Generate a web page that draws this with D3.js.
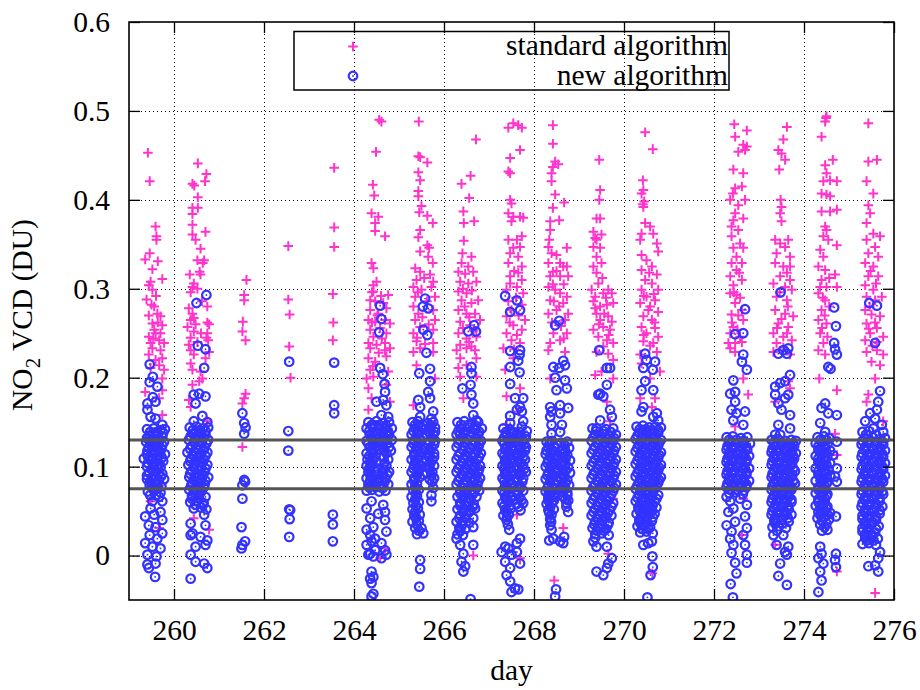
<!DOCTYPE html>
<html>
<head>
<meta charset="utf-8">
<script src="https://cdn.jsdelivr.net/npm/d3@7"></script>
<style>
  html, body { margin: 0; padding: 0; background: #fff; }
  svg { display: block; }
</style>
</head>
<body>
<svg id="chart" width="920" height="690"></svg>
<script>
// Axis ticks
const dayTicks = [260, 262, 264, 266, 268, 270, 272, 274, 276];
const vcdTicks = [0, 0.1, 0.2, 0.3, 0.4, 0.5, 0.6];
// Reference levels (DU)
const refLevels = [0.075, 0.13];
const seriesNames = ["standard algorithm", "new algorithm"];

// Retrievals per day: [offset into the day in 1/100 day, NO2 VCD in mDU]
const std259 = [[42,453],[46,421],[59,370],[61,359],[61,355],[46,340],[36,333],[64,331],[52,322],[74,311],[48,308],[44,304],[52,299],[39,288],[56,280],[44,270],[63,272],[70,269],[52,261],[74,259],[56,254],[70,250],[59,250],[44,246],[67,242],[78,239],[48,239],[52,233],[70,231],[44,226],[74,222],[59,220],[67,214],[48,211],[78,209],[74,199],[36,184],[74,186],[67,177],[74,158],[44,124],[63,113],[52,94],[70,79],[48,61],[67,31],
  [60,292],[50,282],[64,262],[54,244]];
const new259 = [[46,215],[53,201],[46,195],[63,190],[53,178],[59,173],[41,171],[41,164],[48,156],[59,154],[74,147],
  [40,142],[55,143],[70,141],[80,142],[46,135],[60,136],[74,134],[38,128],[52,129],[66,127],[78,128],[44,121],[58,122],[72,120],
  [40,114],[54,115],[68,113],[80,114],[33,109],[48,107],[62,108],[76,106],[40,100],[55,101],[70,99],[45,93],[60,94],[74,92],
  [40,86],[52,87],[66,85],[78,86],[46,79],[60,80],[72,78],[42,72],[56,73],[70,71],
  [47,139],[62,139],[76,138],[40,132],[53,132],[67,131],[47,125],[60,125],[74,124],[41,118],[55,118],[69,117],[46,111],[60,111],[73,110],
  [42,104],[56,104],[68,103],[50,97],[64,97],[40,90],[56,90],[71,89],[47,83],[62,83],[52,76],[65,76],[47,68],[60,68],
  [67,66],[52,61],[74,61],[48,53],[70,49],[56,46],[36,44],[74,40],[44,34],[59,32],[74,25],[46,23],[63,19],[36,14],[52,10],[70,8],[41,1],[61,-1],[59,-9],[41,-10],[44,-14],[58,-24]];

const std260 = [[53,441],[72,429],[69,421],[41,418],[45,416],[53,403],[41,391],[53,391],[41,384],[41,372],[70,364],[41,361],[48,355],[59,345],[52,332],[67,332],[64,329],[57,319],[35,316],[59,316],[44,306],[41,302],[37,296],[74,280],[33,278],[41,272],[37,265],[44,267],[74,262],[78,260],[30,257],[44,252],[37,245],[74,250],[72,245],[76,242],[33,237],[37,231],[44,226],[78,229],[70,222],[37,216],[41,209],[59,207],[63,199],[56,196],[41,192],[33,175],[37,167],[74,151],[48,124],[67,106],[41,87],[59,68],[44,42],[78,29],
  [52,300],[62,286],[48,260],[60,250],[52,240]];
const new260 = [[50,284],[72,293],[53,236],[70,232],[67,211],[44,181],[56,182],[70,179],[48,171],[63,157],[44,151],[74,150],
  [35,144],[50,145],[64,143],[76,144],[42,137],[57,138],[70,136],[33,130],[48,131],[62,129],[76,130],[40,123],[55,124],[68,122],
  [30,116],[45,117],[60,115],[74,116],[38,109],[52,110],[66,108],[32,102],[46,103],[60,101],[74,102],[40,95],[55,96],[68,94],
  [34,88],[48,89],[62,87],[76,88],[40,81],[54,82],[68,80],[34,74],[48,75],[62,73],[40,67],[55,68],[70,66],[36,60],[50,61],[66,59],[44,53],[60,54],[72,52],
  [42,141],[57,141],[70,140],[37,134],[51,134],[65,133],[45,127],[60,127],[72,126],[36,120],[51,120],[66,119],[42,113],[57,113],[70,112],
  [36,106],[50,106],[64,105],[44,99],[58,99],[70,98],[36,92],[50,92],[64,91],[44,85],[58,85],[70,84],[38,78],[52,78],[66,77],[44,71],[58,71],[40,64],[56,64],[48,57],[64,57],
  [67,46],[37,36],[70,34],[41,25],[37,23],[59,21],[74,17],[70,12],[48,10],[37,1],[48,-7],[67,-9],[74,-14],[37,-26]];

const std261 = [[61,310],[56,293],[56,287],[53,263],[52,252],[59,242],[59,182],[56,177],[52,171],[52,122]];
const new261 = [[52,160],[56,149],[59,144],[56,137],[56,85],[52,79],[58,83],[52,64],[50,32],[58,16],[52,12],[50,8]];

const std262 = [[54,348],[54,288],[57,271],[56,235],[59,200]];
const new262 = [[56,218],[54,140],[54,118],[56,52],[58,51],[57,41],[56,21]];

const std263 = [[56,436],[56,369],[56,347],[53,294],[54,262],[53,242]];
const new263 = [[56,217],[56,169],[56,160],[53,46],[53,35],[53,16]];

const std264 = [[56,490],[61,488],[49,454],[42,417],[45,405],[39,385],[54,381],[47,374],[47,365],[69,359],[39,329],[43,323],[50,308],[43,304],[43,297],[76,293],
  [36,287],[47,286],[65,284],[36,276],[54,272],[72,278],[32,265],[47,263],[69,265],[80,261],[36,254],[58,256],[43,246],[72,250],[32,239],[50,237],[69,239],[80,233],
  [36,233],[69,231],[32,222],[47,218],[72,224],[36,209],[76,207],[28,199],[43,201],[32,188],[39,177],[72,192],[32,164],[80,173],[47,124],[72,113],[36,79],[69,8],[58,-3],
  [40,296],[60,292],[52,270],[40,262],[62,244],[55,228],[42,213]];
const new264 = [[58,281],[61,266],[56,251],[58,211],[64,204],[68,193],[69,184],[50,173],[65,175],[72,169],[61,158],[76,156],[43,147],[69,143],[72,139],
  [32,150],[50,151],[64,149],[78,150],[28,143],[42,144],[56,142],[84,143],[35,136],[50,137],[64,135],[78,136],
  [28,129],[42,130],[56,128],[70,129],[84,130],[35,122],[50,123],[64,121],[78,122],[28,115],[42,116],[72,115],
  [30,108],[44,109],[76,108],[28,101],[40,102],[72,101],[32,94],[46,95],[64,93],[78,94],[28,87],[40,88],[56,86],[70,87],
  [32,80],[46,81],[62,79],[76,80],[28,73],[40,74],[56,72],[70,73],
  [40,147],[56,147],[71,146],[34,140],[48,140],[62,139],[76,139],[40,133],[56,133],[70,132],[32,126],[46,126],[60,125],[74,126],
  [40,119],[54,119],[68,118],[82,118],[34,112],[48,112],[66,111],[36,105],[50,105],[68,104],[34,98],[52,98],[66,97],
  [36,91],[50,91],[62,90],[74,91],[36,84],[52,84],[68,83],[34,77],[48,77],[64,76],
  [39,61],[65,57],[28,53],[69,49],[54,47],[36,42],[69,40],[43,32],[28,29],[72,27],[36,23],[47,19],[39,16],[61,14],[28,12],[47,6],[69,6],[36,2],[32,1],[72,1],[43,-1],[61,-3],[39,-18],[43,-24],[36,-26],[39,-31],[43,-43],[39,-46]];

const std265 = [[44,488],[43,449],[47,448],[63,442],[43,431],[47,422],[43,410],[43,404],[50,393],[45,386],[63,382],[75,374],[47,366],[43,358],[63,349],[67,346],[47,342],[65,336],[75,329],
  [36,323],[47,319],[69,316],[39,310],[76,308],[32,302],[50,299],[72,302],[36,291],[80,291],[32,280],[43,272],[76,276],[36,265],[80,265],[47,257],[32,250],[76,254],[39,241],[76,239],[47,233],
  [32,229],[76,229],[39,214],[32,169],[80,199],[76,147],[47,124],[69,109],[36,79],
  [56,312],[42,296],[62,286],[52,268],[66,260],[40,245],[58,238]];
const new265 = [[58,289],[53,280],[65,278],[54,254],[63,248],[61,228],[45,205],[69,210],[69,196],[65,184],[69,177],[43,175],[47,167],[76,162],[72,154],[47,156],[43,147],[43,139],
  [30,150],[42,151],[64,149],[76,150],[36,143],[48,144],[58,142],[70,143],[80,144],[28,136],[42,137],[62,135],[76,136],
  [34,129],[48,130],[68,128],[80,129],[28,122],[42,123],[58,121],[72,122],[34,115],[48,116],[64,114],[78,115],
  [28,108],[42,109],[60,107],[74,108],[34,101],[48,102],[66,100],[78,101],[28,94],[42,95],[62,93],[74,94],[34,87],[46,88],[68,86],[78,87],
  [36,147],[53,147],[70,146],[32,140],[44,140],[68,139],[80,139],[38,133],[52,133],[74,132],[32,126],[46,126],[64,125],[78,125],
  [38,119],[52,119],[70,118],[34,112],[46,112],[68,111],[78,111],[36,105],[52,105],[70,104],[32,98],[46,98],[68,97],[40,91],[54,91],[72,90],
  [34,84],[74,83],[36,77],[38,70],[36,63],[38,56],[36,49],[38,42],[40,35],[44,28],
  [76,76],[72,68],[72,61],[28,80],[40,81],[32,73],[44,74],[28,66],[40,67],[32,59],[44,60],[30,52],[42,53],[34,45],[46,46],[30,38],[44,39],[36,31],[50,31],[40,24],[54,25],
  [47,-5],[47,-15],[45,-35]];

const std266 = [[71,468],[59,427],[39,418],[56,402],[43,387],[67,376],[44,374],[44,354],[41,340],[61,336],
  [39,329],[54,325],[32,319],[47,317],[65,319],[36,308],[54,306],[72,308],[32,297],[50,295],[39,287],[61,284],[76,287],[32,276],[50,272],[69,272],[36,263],[80,265],[58,259],[32,250],[50,244],[72,246],[36,237],[61,235],
  [28,231],[50,233],[69,231],[36,222],[72,222],[32,211],[50,214],[36,201],[72,201],[43,177],[36,145],[50,117],[43,94],[65,79],[65,0],
  [42,300],[62,298],[46,280],[56,268],[42,256],[66,253],[56,240]];
const new266 = [[67,259],[54,252],[71,252],[61,212],[61,205],[41,188],[59,192],[61,181],[65,171],[65,158],[72,152],[36,136],
  [30,150],[45,151],[62,149],[76,150],[38,143],[54,144],[70,142],[84,143],[28,136],[44,137],[60,135],[76,136],
  [36,129],[52,130],[68,128],[82,129],[28,122],[44,123],[60,121],[76,122],[36,115],[52,116],[68,114],[82,115],
  [28,108],[44,109],[60,107],[74,108],[36,101],[52,102],[68,100],[80,101],[28,94],[44,95],[60,93],[76,94],
  [36,87],[52,88],[68,86],[80,87],[28,80],[44,81],[60,79],[74,80],[36,73],[50,74],[66,72],[78,73],
  [30,66],[44,67],[58,65],[72,66],[36,59],[50,60],[66,58],[30,52],[44,53],[58,51],[69,53],[36,45],[50,46],[65,42],
  [28,38],[42,39],[56,37],[65,32],[34,31],[48,30],[30,24],[42,23],
  [38,147],[54,147],[69,146],[32,140],[46,140],[62,139],[78,139],[42,133],[58,133],[74,132],[32,126],[48,126],[64,125],[78,125],
  [42,119],[58,119],[74,118],[32,112],[48,112],[64,111],[78,111],[40,105],[56,105],[70,104],[32,98],[48,98],[64,97],[78,97],
  [40,91],[56,91],[72,90],[32,84],[48,84],[64,83],[76,83],[40,77],[56,77],[72,76],[36,70],[50,70],[64,69],[42,63],[58,63],
  [36,56],[50,56],[64,55],[42,49],[56,49],[34,42],[48,42],[40,35],[36,28],
  [28,19],[36,12],[65,12],[43,2],[39,-7],[47,-12],[43,-18],[59,-49]];

const std267 = [[43,481],[54,486],[65,484],[73,481],[69,456],[47,447],[43,432],[47,430],[47,400],[50,396],[43,385],[54,381],[69,381],[76,380],[50,376],[43,355],[62,355],[73,359],[69,347],[54,346],[47,340],[65,336],[43,329],[73,325],[65,318],[47,314],[73,310],[47,306],[62,302],[76,295],[39,299],[43,286],[73,282],[39,269],[80,265],[54,259],[39,250],[73,254],[50,242],[69,239],
  [32,233],[54,222],[36,209],[39,179],[69,188],[65,162],[39,147],[47,124],[73,94],[62,46],[69,-3],
  [56,320],[60,290],[50,276],[66,270],[46,262],[62,248],[56,232]];
const new267 = [[36,292],[62,287],[47,274],[69,276],[47,230],[69,231],[68,226],[65,219],[47,212],[68,206],[47,193],[58,177],[76,177],[69,167],[62,164],[47,157],[73,162],[76,151],[73,145],[62,136],[47,149],
  [32,143],[46,142],[84,140],[38,136],[54,137],[70,135],[82,134],[30,129],[44,130],[60,128],[76,129],[38,122],[52,123],[68,121],[82,122],
  [30,115],[44,116],[60,114],[74,115],[36,108],[50,109],[66,107],[80,108],[30,101],[44,102],[62,100],[76,101],[36,94],[50,95],[68,93],[82,94],
  [30,87],[44,88],[62,86],[76,87],[36,80],[50,81],[68,79],[30,73],[44,74],[62,72],[76,73],[36,66],[50,67],[68,65],[30,59],[44,60],[62,58],[76,59],
  [36,52],[48,53],[70,51],[32,45],[44,46],[39,40],[45,29],
  [38,139],[54,139],[68,139],[34,133],[50,133],[66,132],[80,131],[34,126],[48,126],[64,125],[78,125],[36,119],[52,119],[66,118],[80,118],
  [34,112],[46,112],[62,111],[76,111],[36,105],[52,105],[70,104],[34,98],[48,98],[64,97],[78,97],[36,91],[52,91],[70,90],
  [34,84],[46,84],[62,83],[74,83],[38,77],[54,77],[70,76],[34,70],[46,70],[64,69],[38,63],[54,63],[72,62],[34,56],[46,56],[66,55],[38,49],[40,43],[42,35],
  [69,19],[62,14],[36,10],[43,8],[50,1],[28,4],[62,4],[69,-9],[36,-7],[47,-14],[39,-22],[47,-29],[58,-37],[50,-41],[65,-38]];

const std268 = [[42,484],[42,463],[47,443],[54,440],[42,437],[39,430],[39,421],[47,406],[67,397],[42,391],[36,376],[56,377],[36,366],[34,355],[73,346],[32,347],[39,340],[50,338],[58,329],[65,325],[73,325],[32,329],[42,319],[36,314],[58,314],[76,314],[32,302],[47,299],[58,295],[73,291],[36,287],[65,284],[76,272],[69,265],[43,250],[73,250],[58,242],[32,272],[50,276],[36,239],
  [32,231],[36,199],[69,229],[65,31],[45,-28],[50,106],[58,79],
  [50,320],[42,305],[66,305],[44,286],[56,280],[40,262],[60,258],[66,244]];
const new268 = [[47,259],[56,264],[43,212],[56,211],[65,219],[69,214],[47,200],[69,197],[50,186],[73,188],[36,167],[58,169],[76,166],[39,162],[36,156],[58,160],[39,147],[62,147],[39,137],[58,139],
  [28,128],[40,129],[60,127],[74,128],[32,121],[46,122],[64,120],[78,121],[26,114],[38,115],[52,113],[62,114],[74,113],
  [32,107],[46,108],[66,106],[80,107],[26,100],[38,101],[52,99],[62,100],[76,99],[32,93],[46,94],[66,92],[80,93],
  [26,86],[38,87],[50,85],[60,86],[74,85],[32,79],[46,80],[66,78],[78,79],[26,72],[38,73],[50,71],[62,72],[74,71],
  [32,65],[44,66],[70,64],[28,58],[40,59],[72,59],[32,51],[44,52],[76,49],
  [34,125],[50,125],[68,124],[28,118],[42,118],[58,117],[70,117],[36,111],[50,111],[70,110],[30,104],[42,104],[58,103],[70,103],
  [36,97],[50,97],[70,96],[30,90],[42,90],[56,89],[68,89],[36,83],[52,83],[70,82],[30,76],[42,76],[58,75],[70,75],
  [36,69],[48,69],[74,68],[32,62],[44,62],[76,62],[36,55],[72,55],[34,48],[36,41],[38,38],
  [65,66],[32,68],[39,46],[36,34],[39,29],[34,17],[43,19],[58,16],[65,14],[67,21],[49,-38],[47,-46]];

const std269 = [[45,445],[47,411],[45,400],[39,379],[47,379],[32,364],[36,357],[50,361],[39,355],[32,347],[47,346],[39,336],[50,329],[32,325],[39,318],[43,306],[28,299],[36,291],[54,295],[65,299],[73,295],[32,286],[47,280],[62,282],[76,284],[39,272],[65,269],[47,265],[73,263],[32,254],[54,257],[69,254],[43,246],[62,242],[76,239],
  [39,229],[65,227],[76,220],[36,203],[50,207],[76,199],[62,173],[69,151],[50,117],[62,94],[76,64],[65,2],
  [52,312],[60,290],[36,278],[56,272],[44,260],[66,248],[54,235]];
const new269 = [[45,231],[62,211],[69,211],[62,192],[47,182],[43,181],[54,179],[69,164],[73,156],[39,143],[47,152],
  [30,143],[60,142],[76,143],[36,136],[52,137],[68,135],[82,136],[28,129],[44,130],[60,128],[76,129],[36,122],[52,123],[68,121],[82,122],
  [28,115],[44,116],[60,114],[76,115],[36,108],[52,109],[68,107],[82,108],[28,101],[44,102],[60,100],[76,101],[36,94],[52,95],[68,93],[82,94],
  [28,87],[44,88],[60,86],[76,87],[36,80],[52,81],[68,79],[82,80],[28,73],[44,74],[60,72],[76,73],[36,66],[52,67],[68,65],
  [28,59],[44,60],[60,58],[76,59],[36,52],[52,53],[68,51],[28,45],[44,46],[60,44],[72,45],[36,38],[52,39],[66,37],
  [30,31],[44,32],[60,30],[36,24],[50,25],[66,23],
  [38,140],[54,140],[70,139],[32,133],[48,133],[64,132],[78,132],[40,126],[56,126],[72,125],[32,119],[48,119],[64,118],[78,118],
  [40,112],[56,112],[72,111],[32,105],[48,105],[64,104],[78,104],[40,98],[56,98],[72,97],[32,91],[48,91],[64,90],[78,90],
  [40,84],[56,84],[72,83],[32,77],[48,77],[64,76],[78,76],[40,70],[56,70],[72,69],[32,63],[48,63],[64,62],[40,56],[56,56],[72,55],
  [32,49],[48,49],[64,48],[40,42],[56,42],[34,35],[50,35],[64,34],[40,28],[56,28],[36,20],
  [32,16],[39,10],[62,10],[73,-3],[65,-9],[62,-14],[54,-22],[39,-18]];

const std270 = [[47,476],[64,457],[42,422],[43,411],[39,407],[45,398],[42,395],[43,392],[47,374],[58,370],[65,362],[39,362],[36,355],[73,351],[76,342],[39,338],[50,332],[62,325],[39,321],[73,316],[47,310],[62,306],[39,299],[76,299],[50,291],[69,287],[36,284],[58,280],[76,274],[43,269],[62,265],[39,257],[69,256],[50,250],[76,246],[43,241],[65,239],
  [36,226],[73,229],[39,216],[80,207],[58,199],[36,177],[69,177],[62,167],[50,124],[65,87],[43,57],[63,-20],
  [56,318],[66,294],[44,292],[54,276],[68,262],[44,248],[58,236]];
const new270 = [[47,227],[50,220],[69,218],[43,211],[64,209],[47,196],[39,186],[65,186],[43,167],[39,162],[73,160],[65,156],[76,152],
  [28,145],[42,146],[56,144],[70,145],[82,144],[34,138],[48,139],[62,137],[76,138],[26,131],[40,132],[54,130],[68,131],[82,130],
  [34,124],[48,125],[62,123],[76,124],[26,117],[40,118],[54,116],[68,117],[82,116],[34,110],[48,111],[62,109],[76,110],
  [26,103],[40,104],[54,102],[68,103],[82,102],[34,96],[48,97],[62,95],[76,96],[26,89],[40,90],[54,88],[68,89],[82,88],
  [34,82],[48,83],[62,81],[76,82],[26,75],[40,76],[54,74],[68,75],[34,68],[48,69],[62,67],[76,68],[26,61],[40,62],[54,60],[68,61],
  [32,54],[46,55],[60,53],[72,54],[28,47],[42,48],[56,46],[68,47],[34,40],[48,41],[62,39],[30,33],[44,34],[58,32],[36,26],[50,27],[64,25],
  [35,142],[49,142],[63,141],[76,141],[30,135],[44,135],[58,134],[70,134],[36,128],[50,128],[64,127],[78,127],[30,121],[44,121],[58,120],[72,120],
  [36,114],[50,114],[64,113],[78,113],[30,107],[44,107],[58,106],[72,106],[36,100],[50,100],[64,99],[78,99],[30,93],[44,93],[58,92],[72,92],
  [36,86],[50,86],[64,85],[78,85],[30,79],[44,79],[58,78],[72,78],[36,72],[50,72],[64,71],[30,65],[44,65],[58,64],[72,64],
  [36,58],[50,58],[64,57],[34,51],[48,51],[62,50],[38,44],[52,44],[64,43],[36,37],[50,37],[40,30],[54,30],
  [43,12],[54,14],[62,16],[63,-1],[64,-13],[59,-22],[52,-47]];

const std272 = [[45,485],[73,478],[47,471],[65,462],[73,460],[69,456],[54,454],[43,434],[65,430],[47,413],[62,415],[42,407],[69,400],[36,400],[54,394],[47,385],[43,377],[65,379],[39,370],[54,366],[39,359],[58,351],[43,346],[65,346],[50,336],[39,329],[62,329],[50,321],[36,314],[62,310],[43,304],[36,295],[50,293],[47,284],[62,276],[39,271],[65,265],[43,257],[36,250],[58,246],[47,239],[32,239],
  [36,233],[47,229],[65,199],[76,181],[47,145],[50,106],[39,79],[65,64],[62,23],
  [56,318],[44,296],[58,290],[54,270],[40,262],[52,254],[62,240]];
const new272 = [[69,277],[47,249],[65,250],[65,226],[62,218],[73,209],[43,197],[36,182],[47,184],[47,173],[39,164],[50,160],[43,152],[69,162],[65,147],
  [28,133],[42,134],[60,132],[74,133],[34,126],[50,127],[66,125],[80,126],[28,119],[42,120],[58,118],[74,119],
  [34,112],[50,113],[66,111],[78,112],[28,105],[42,106],[58,104],[72,105],[34,98],[50,99],[66,97],[78,98],
  [28,91],[42,92],[58,90],[72,91],[34,84],[50,85],[66,83],[78,84],[28,77],[42,78],[58,76],[72,77],[34,70],[48,71],[64,69],
  [34,130],[50,130],[66,129],[30,123],[44,123],[58,122],[72,122],[34,116],[50,116],[66,115],[30,109],[44,109],[58,108],[72,108],
  [34,102],[50,102],[66,101],[30,95],[44,95],[58,94],[72,94],[34,88],[50,88],[66,87],[30,81],[44,81],[58,80],[72,80],[36,74],[50,74],[66,73],
  [28,66],[58,64],[36,61],[43,53],[32,49],[73,57],[69,44],[47,38],[28,34],[73,31],[39,27],[65,23],[36,19],[69,12],[43,12],[73,1],[39,3],[47,-8],[73,-8],[50,-20],[37,-32],[42,-47]];

const std273 = [[62,482],[54,468],[43,456],[50,452],[58,445],[45,434],[48,400],[50,392],[47,385],[50,376],[36,355],[47,351],[65,355],[58,347],[39,340],[69,336],[36,329],[54,325],[69,325],[47,314],[69,310],[32,306],[58,302],[73,299],[39,291],[62,287],[36,276],[58,272],[76,269],[43,261],[65,257],[32,250],[54,246],[73,242],[39,239],
  [32,229],[69,226],[65,196],[69,188],[36,173],[54,117],[32,87],[36,12],
  [62,318],[46,296],[64,280],[50,266],[40,256],[62,250],[54,234]];
const new273 = [[48,296],[43,227],[54,231],[65,233],[62,227],[69,203],[36,190],[47,194],[58,196],[36,181],[43,171],[58,177],[65,181],[50,164],[69,158],[43,147],[47,136],[69,143],[36,136],
  [28,130],[42,131],[58,129],[72,130],[82,129],[34,123],[50,124],[66,122],[78,123],[28,116],[42,117],[58,115],[72,116],[82,115],
  [34,109],[50,110],[66,108],[78,109],[28,102],[42,103],[58,101],[72,102],[34,95],[50,96],[66,94],[80,95],
  [28,88],[42,89],[58,87],[72,88],[34,81],[50,82],[66,80],[80,81],[28,74],[42,75],[58,73],[72,74],[34,67],[50,68],[66,66],
  [28,60],[42,61],[58,59],[72,60],[34,53],[50,54],[66,52],[28,46],[42,47],[58,45],[72,46],[34,39],[50,40],[66,38],[30,32],[44,33],[60,31],
  [34,127],[50,127],[64,126],[76,126],[30,120],[44,120],[58,119],[74,119],[34,113],[50,113],[64,112],[76,112],[30,106],[44,106],[58,105],[74,105],
  [36,99],[50,99],[64,98],[76,98],[30,92],[44,92],[58,91],[74,91],[36,85],[50,85],[64,84],[76,84],[30,78],[44,78],[58,77],[72,77],
  [36,71],[50,71],[64,70],[30,64],[44,64],[58,63],[72,63],[36,57],[50,57],[64,56],[30,50],[44,50],[58,49],[36,43],[50,43],[64,42],[36,36],[52,36],[40,28],
  [32,23],[54,23],[39,12],[65,10],[62,1],[58,4],[47,-9],[43,-23],[62,-33]];

const std274 = [[49,492],[47,488],[50,494],[39,471],[64,445],[47,439],[50,430],[43,421],[58,422],[73,421],[39,407],[50,406],[58,404],[39,387],[58,387],[73,389],[47,370],[50,366],[43,359],[54,355],[73,349],[36,344],[43,336],[32,325],[47,321],[39,310],[69,316],[36,302],[50,302],[73,302],[32,295],[47,287],[39,276],[32,265],[50,261],[36,250],[43,239],
  [32,231],[47,226],[34,199],[73,186],[69,137],[73,113],[73,-18],[39,87],
  [56,312],[42,290],[56,280],[46,270],[40,256],[52,246]];
const new274 = [[67,279],[71,258],[67,239],[69,232],[73,226],[54,212],[59,210],[47,171],[39,166],[54,160],[36,149],[73,158],[47,139],[73,128],
  [30,133],[44,134],[56,132],[26,126],[40,127],[52,125],[32,119],[46,120],[58,118],[26,112],[40,113],[52,111],
  [32,105],[46,106],[58,104],[26,98],[40,99],[54,97],[32,91],[46,92],[58,90],[26,84],[40,85],[52,83],[32,77],[46,78],
  [26,70],[40,71],[52,69],[32,63],[46,64],[26,56],[40,57],[52,55],[32,49],[46,50],[58,48],[30,42],[44,43],[56,41],[36,35],[50,36],[40,28],[52,29],
  [36,130],[50,130],[32,123],[46,123],[36,116],[50,116],[32,109],[46,109],[36,102],[50,102],[32,95],[48,95],[36,88],[50,88],[38,81],[50,81],
  [32,74],[46,74],[38,67],[50,67],[32,60],[46,60],[36,53],[50,53],[36,46],[52,46],[40,39],[46,32],
  [73,98],[73,83],[71,44],[69,89],[65,113],
  [36,10],[39,2],[32,-3],[43,-9],[36,-18],[39,-28],[32,-41],[71,2],[69,-5],[71,-13]];

const std275 = [[43,486],[43,443],[62,445],[39,421],[54,407],[43,394],[47,385],[39,374],[54,362],[69,359],[39,355],[58,347],[43,340],[65,336],[36,329],[54,325],[43,314],[65,314],[36,304],[54,299],[39,291],[58,287],[73,291],[36,276],[50,271],[69,269],[39,261],[62,256],[47,250],[76,246],[36,242],
  [39,229],[62,231],[76,226],[50,218],[69,214],[58,199],[43,181],[39,173],[76,151],[58,-42],[54,117],[73,79],
  [48,320],[60,306],[46,280],[58,262],[44,255],[62,240],[52,236]];
const new275 = [[45,284],[62,281],[58,239],[69,185],[65,173],[62,164],[47,160],[36,151],[58,154],[73,147],[54,143],
  [30,139],[44,140],[76,139],[36,132],[52,133],[68,131],[80,132],[28,125],[44,126],[60,124],[76,125],[36,118],[52,119],[68,117],[80,118],
  [28,111],[44,112],[60,110],[76,111],[36,104],[52,105],[68,103],[80,104],[28,97],[44,98],[60,96],[76,97],[36,90],[52,91],[68,89],[80,90],
  [28,83],[44,84],[60,82],[76,83],[36,76],[52,77],[68,75],[28,69],[44,70],[60,68],[76,69],[36,62],[52,63],[68,61],
  [28,55],[44,56],[60,54],[74,55],[36,48],[52,49],[68,47],[30,41],[44,42],[60,40],[36,34],[50,35],[66,33],[30,27],[44,28],[58,26],
  [36,20],[50,21],[64,19],[30,13],[44,14],[60,12],
  [38,136],[60,136],[30,129],[44,129],[60,128],[74,128],[36,122],[52,122],[68,121],[30,115],[44,115],[60,114],[74,114],
  [36,108],[52,108],[68,107],[30,101],[44,101],[60,100],[74,100],[36,94],[52,94],[68,93],[30,87],[44,87],[60,86],[74,86],
  [36,80],[52,80],[68,79],[30,73],[44,73],[60,72],[74,72],[36,66],[52,66],[68,65],[30,59],[44,59],[60,58],[36,52],[52,52],[68,51],
  [30,45],[44,45],[60,44],[36,38],[52,38],[30,31],[44,31],[60,30],[36,24],[50,24],[40,17],[54,17],
  [69,4],[65,-3],[58,-11],[43,-12],[65,-18]];

const standardDays = [[259,std259],[260,std260],[261,std261],[262,std262],[263,std263],[264,std264],[265,std265],[266,std266],[267,std267],[268,std268],[269,std269],[270,std270],[272,std272],[273,std273],[274,std274],[275,std275]];
const newDays = [[259,new259],[260,new260],[261,new261],[262,new262],[263,new263],[264,new264],[265,new265],[266,new266],[267,new267],[268,new268],[269,new269],[270,new270],[272,new272],[273,new273],[274,new274],[275,new275]];

const COLOR_STD = "#ff33cc";
const COLOR_NEW = "#3333ff";
const FONT = "'Liberation Serif', 'Times New Roman', serif";
const FONT_SIZE = 29.5;

const toPoints = days => days.flatMap(([day, pts]) =>
  pts.map(([off, mdu]) => ({ day: day + off / 100, vcd: mdu / 1000 })));
const standardPts = toPoints(standardDays);
const newPts = toPoints(newDays);

const svg = d3.select("#chart");
const plotL = 129, plotR = 894, plotT = 22, plotB = 600;

const x = d3.scaleLinear().domain([259, 276]).range([plotL, plotR]);
const y = d3.scaleLinear().domain([-0.05, 0.6]).range([plotB, plotT]);

svg.append("rect").attr("width", 920).attr("height", 690).attr("fill", "#fff");

svg.append("defs").append("clipPath").attr("id", "plot-clip")
  .append("rect").attr("x", plotL).attr("y", plotT)
  .attr("width", plotR - plotL).attr("height", plotB - plotT);

// Dotted grid
const grid = svg.append("g").attr("stroke", "#000").attr("stroke-width", 1)
  .attr("stroke-dasharray", "1,3").attr("fill", "none");
grid.selectAll("line.gx").data(dayTicks.filter(d => d < 276)).join("line")
  .attr("class", "gx")
  .attr("x1", d => Math.round(x(d)) + 0.5).attr("x2", d => Math.round(x(d)) + 0.5)
  .attr("y1", plotT).attr("y2", plotB);
grid.selectAll("line.gy").data(vcdTicks.filter(v => v < 0.6)).join("line")
  .attr("class", "gy")
  .attr("x1", plotL).attr("x2", plotR)
  .attr("y1", d => Math.round(y(d)) + 0.5).attr("y2", d => Math.round(y(d)) + 0.5);

const plot = svg.append("g").attr("clip-path", "url(#plot-clip)");

// Standard algorithm: plus marks
const plusPath = "M-4.8,0H4.8M0,-4.8V4.8";
plot.append("g").selectAll("path").data(standardPts).join("path")
  .attr("d", plusPath)
  .attr("transform", d => `translate(${x(d.day)},${y(d.vcd)})`)
  .attr("stroke", COLOR_STD).attr("stroke-width", 2).attr("fill", "none");

// New algorithm: circled dots
const marks = plot.append("g").selectAll("g").data(newPts).join("g")
  .attr("transform", d => `translate(${x(d.day)},${y(d.vcd)})`);
marks.append("circle").attr("r", 4.3).attr("fill", "none")
  .attr("stroke", COLOR_NEW).attr("stroke-width", 2.2);
marks.append("circle").attr("r", 0.9).attr("fill", COLOR_NEW);

// Reference levels
plot.append("g").selectAll("line").data(refLevels).join("line")
  .attr("x1", plotL).attr("x2", plotR)
  .attr("y1", d => y(d)).attr("y2", d => y(d))
  .attr("stroke", "#555").attr("stroke-width", 3);

// Axes: inward ticks on all four sides
const tick = 11;
const styleAxis = g => {
  g.select(".domain").remove();
  g.selectAll(".tick line").attr("stroke", "#000").attr("stroke-width", 1.3);
  g.selectAll("text").attr("font-family", FONT).attr("font-size", FONT_SIZE).attr("fill", "#000");
};
svg.append("g").attr("transform", `translate(0,${plotB})`)
  .call(d3.axisBottom(x).tickValues(dayTicks).tickSizeInner(-tick).tickSizeOuter(0).tickPadding(19).tickFormat(d3.format("d")))
  .call(styleAxis);
svg.append("g").attr("transform", `translate(0,${plotT})`)
  .call(d3.axisTop(x).tickValues(dayTicks).tickSizeInner(-tick).tickSizeOuter(0).tickFormat(""))
  .call(styleAxis);
svg.append("g").attr("transform", `translate(${plotL},0)`)
  .call(d3.axisLeft(y).tickValues(vcdTicks).tickSizeInner(-tick).tickSizeOuter(0).tickPadding(19)
    .tickFormat(d => d === 0 ? "0" : d3.format(".1f")(d)))
  .call(styleAxis);
svg.append("g").attr("transform", `translate(${plotR},0)`)
  .call(d3.axisRight(y).tickValues(vcdTicks).tickSizeInner(-tick).tickSizeOuter(0).tickFormat(""))
  .call(styleAxis);

// Frame
svg.append("rect").attr("x", plotL).attr("y", plotT)
  .attr("width", plotR - plotL).attr("height", plotB - plotT)
  .attr("fill", "none").attr("stroke", "#000").attr("stroke-width", 1.6);

// Axis titles
svg.append("text").attr("x", (plotL + plotR) / 2).attr("y", 680)
  .attr("text-anchor", "middle").attr("font-family", FONT).attr("font-size", FONT_SIZE)
  .text("day");
const yTitle = svg.append("text")
  .attr("transform", `translate(32,315) rotate(-90)`)
  .attr("text-anchor", "middle").attr("font-family", FONT).attr("font-size", FONT_SIZE);
yTitle.append("tspan").text("NO");
yTitle.append("tspan").attr("font-size", 21).attr("dy", 8).text("2");
yTitle.append("tspan").attr("dy", -8).text(" VCD (DU)");

// Legend
const legend = svg.append("g");
legend.append("rect").attr("x", 294).attr("y", 31.5).attr("width", 435).attr("height", 58.5)
  .attr("fill", "none").attr("stroke", "#000").attr("stroke-width", 1.5);
legend.append("text").attr("x", 728).attr("y", 55).attr("text-anchor", "end")
  .attr("font-family", FONT).attr("font-size", FONT_SIZE).text(seriesNames[0]);
legend.append("text").attr("x", 728).attr("y", 85).attr("text-anchor", "end")
  .attr("font-family", FONT).attr("font-size", FONT_SIZE).text(seriesNames[1]);
legend.append("path").attr("d", plusPath).attr("transform", "translate(353,46.5)")
  .attr("stroke", COLOR_STD).attr("stroke-width", 2).attr("fill", "none");
const key = legend.append("g").attr("transform", "translate(353,76)");
key.append("circle").attr("r", 4.3).attr("fill", "none").attr("stroke", COLOR_NEW).attr("stroke-width", 2.2);
key.append("circle").attr("r", 0.9).attr("fill", COLOR_NEW);
</script>
</body>
</html>
